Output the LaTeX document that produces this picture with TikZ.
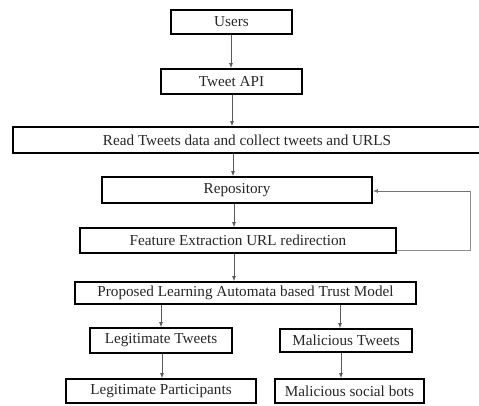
\documentclass[tikz,border=0pt]{standalone}
\usepackage{fontspec}
\setmainfont{Liberation Serif}
\usetikzlibrary{arrows.meta}
\begin{document}
\begin{tikzpicture}[x=1pt,y=-1pt,
  box/.style={draw=black,line width=1.8pt,inner sep=0pt,font=\fontsize{15.2}{17}\selectfont,text=black!85},
  conn/.style={draw=black!65,line width=0.8pt,-{Latex[length=5pt,width=4pt]}},
  fb/.style={draw=black!45,line width=0.8pt}]
\useasboundingbox (0,0) rectangle (479,405);
\node[box,minimum width=121pt,minimum height=24pt] (users) at (231.5,22) {Users};
\node[box,minimum width=141pt,minimum height=25pt] (api) at (231.5,81.5) {Tweet API};
\node[box,minimum width=468pt,minimum height=26pt] (read) at (247,140) {Read Tweets data and collect tweets and URLS};
\node[box,minimum width=270pt,minimum height=26pt] (repo) at (237,190) {Repository};
\node[box,minimum width=316pt,minimum height=25pt] (feat) at (238,240.5) {Feature Extraction URL redirection};
\node[box,minimum width=341pt,minimum height=22pt] (prop) at (245.5,293) {Proposed Learning Automata based Trust Model};
\node[box,minimum width=142pt,minimum height=25pt] (legT) at (161,340.5) {Legitimate Tweets};
\node[box,minimum width=132pt,minimum height=23pt] (malT) at (346,340.5) {Malicious Tweets};
\node[box,minimum width=190pt,minimum height=24pt] (legP) at (161,391) {Legitimate Participants};
\node[box,minimum width=149pt,minimum height=24pt] (malB) at (349.5,391) {Malicious social bots};
\coordinate (f1) at (470,250);
\coordinate (f2) at (470,191);
\draw[conn] (users.south -| 231,0) -- (api.north -| 231,0);
\draw[conn] (api.south -| 232,0) -- (read.north -| 232,0);
\draw[conn] (read.south -| 233,0) -- (repo.north -| 233,0);
\draw[conn] (repo.south -| 234,0) -- (feat.north -| 234,0);
\draw[conn] (feat.south -| 234,0) -- (prop.north -| 234,0);
\draw[conn] (prop.south -| 161,0) -- (legT.north -| 161,0);
\draw[conn] (prop.south -| 340,0) -- (malT.north -| 340,0);
\draw[conn] (legT.south -| 162,0) -- (legP.north -| 162,0);
\draw[conn] (malT.south -| 341,0) -- (malB.north -| 341,0);
\draw[fb] (feat.east |- f1) -- (f1) -- (f2);
\draw[conn,draw=black!55] (f2) -- (repo.east |- f2);
\end{tikzpicture}
\end{document}
